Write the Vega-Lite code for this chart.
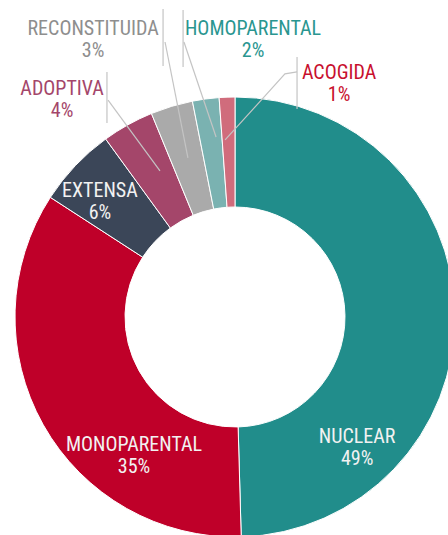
{
  "$schema": "https://vega.github.io/schema/vega-lite/v6.json",
  "width": 470,
  "height": 634,
  "autosize": "none",
  "padding": 0,
  "background": "white",
  "config": {"view": {"stroke": null}},
  "datasets": {
    "slices": [
      {"category": "NUCLEAR", "value": 49.55, "order": 1},
      {"category": "MONOPARENTAL", "value": 34.6, "order": 2},
      {"category": "EXTENSA", "value": 5.85, "order": 3},
      {"category": "ADOPTIVA", "value": 3.8, "order": 4},
      {"category": "RECONSTITUIDA", "value": 3.1, "order": 5},
      {"category": "HOMOPARENTAL", "value": 1.95, "order": 6},
      {"category": "ACOGIDA", "value": 1.15, "order": 7}
    ],
    "labels": [
      {"category": "NUCLEAR", "pct": "49%", "x": 0.555, "y": -0.573},
      {"category": "MONOPARENTAL", "pct": "35%", "x": -0.459, "y": -0.609},
      {"category": "EXTENSA", "pct": "6%", "x": -0.614, "y": 0.545},
      {"category": "ADOPTIVA", "pct": "4%", "x": -0.786, "y": 1.009},
      {"category": "RECONSTITUIDA", "pct": "3%", "x": -0.645, "y": 1.282},
      {"category": "HOMOPARENTAL", "pct": "2%", "x": 0.082, "y": 1.282},
      {"category": "ACOGIDA", "pct": "1%", "x": 0.473, "y": 1.082}
    ],
    "leaders": [
      {"seg": "a1", "pt": 1, "x": -0.582, "y": 1.114},
      {"seg": "a1", "pt": 2, "x": -0.582, "y": 0.882},
      {"seg": "a2", "pt": 1, "x": -0.577, "y": 0.986},
      {"seg": "a2", "pt": 2, "x": -0.341, "y": 0.664},
      {"seg": "r1", "pt": 1, "x": -0.327, "y": 1.4},
      {"seg": "r1", "pt": 2, "x": -0.327, "y": 1.141},
      {"seg": "r2", "pt": 1, "x": -0.318, "y": 1.25},
      {"seg": "r2", "pt": 2, "x": -0.214, "y": 0.723},
      {"seg": "h1", "pt": 1, "x": -0.236, "y": 1.395},
      {"seg": "h1", "pt": 2, "x": -0.236, "y": 1.136},
      {"seg": "h2", "pt": 1, "x": -0.232, "y": 1.25},
      {"seg": "h2", "pt": 2, "x": -0.086, "y": 0.818},
      {"seg": "c1", "pt": 1, "x": 0.282, "y": 1.182},
      {"seg": "c1", "pt": 2, "x": 0.282, "y": 0.945},
      {"seg": "c2", "pt": 1, "x": 0.282, "y": 1.114},
      {"seg": "c2", "pt": 2, "x": 0.227, "y": 1.105},
      {"seg": "c2", "pt": 3, "x": -0.045, "y": 0.805}
    ]
  },
  "resolve": {"scale": {"color": "independent"}},
  "layer": [
    {
      "data": {"name": "slices"},
      "mark": {"type": "arc", "innerRadius": 110, "outerRadius": 220, "stroke": "white", "strokeWidth": 1},
      "encoding": {
        "theta": {"field": "value", "type": "quantitative", "stack": true},
        "order": {"field": "order", "type": "quantitative"},
        "color": {
          "field": "category", "type": "nominal", "legend": null,
          "scale": {
            "domain": ["NUCLEAR", "MONOPARENTAL", "EXTENSA", "ADOPTIVA", "RECONSTITUIDA", "HOMOPARENTAL", "ACOGIDA"],
            "range": ["#218d8b", "#bf0029", "#3b4658", "#a4466a", "#aaaaaa", "#7ab2b1", "#d06c7c"]
          }
        }
      }
    },
    {
      "data": {"name": "leaders"},
      "mark": {"type": "line", "color": "#c4c4c4", "strokeWidth": 1.2},
      "encoding": {
        "x": {"field": "x", "type": "quantitative", "scale": {"domain": [-1.0682, 1.0682], "nice": false, "zero": false}, "axis": null},
        "y": {"field": "y", "type": "quantitative", "scale": {"domain": [-1.4409, 1.4409], "nice": false, "zero": false}, "axis": null},
        "detail": {"field": "seg", "type": "nominal"},
        "order": {"field": "pt", "type": "quantitative"}
      }
    },
    {
      "data": {"name": "labels"},
      "mark": {"type": "text", "font": "Roboto Condensed, Liberation Sans Narrow, DejaVu Sans Condensed, Roboto, sans-serif", "fontSize": 20, "align": "center", "baseline": "alphabetic"},
      "encoding": {
        "x": {"field": "x", "type": "quantitative", "scale": {"domain": [-1.0682, 1.0682], "nice": false, "zero": false}, "axis": null},
        "y": {"field": "y", "type": "quantitative", "scale": {"domain": [-1.4409, 1.4409], "nice": false, "zero": false}, "axis": null},
        "text": {"field": "category", "type": "nominal"},
        "color": {
          "field": "category", "type": "nominal", "legend": null,
          "scale": {
            "domain": ["NUCLEAR", "MONOPARENTAL", "EXTENSA", "ADOPTIVA", "RECONSTITUIDA", "HOMOPARENTAL", "ACOGIDA"],
            "range": ["#f2f2f2", "#f2f2f2", "#f2f2f2", "#a4466a", "#8e8e8e", "#2a9690", "#c8102e"]
          }
        }
      }
    },
    {
      "data": {"name": "labels"},
      "mark": {"type": "text", "font": "Roboto Condensed, Liberation Sans Narrow, DejaVu Sans Condensed, Roboto, sans-serif", "fontSize": 20, "align": "center", "baseline": "alphabetic", "dy": 22},
      "encoding": {
        "x": {"field": "x", "type": "quantitative", "scale": {"domain": [-1.0682, 1.0682], "nice": false, "zero": false}, "axis": null},
        "y": {"field": "y", "type": "quantitative", "scale": {"domain": [-1.4409, 1.4409], "nice": false, "zero": false}, "axis": null},
        "text": {"field": "pct", "type": "nominal"},
        "color": {
          "field": "category", "type": "nominal", "legend": null,
          "scale": {
            "domain": ["NUCLEAR", "MONOPARENTAL", "EXTENSA", "ADOPTIVA", "RECONSTITUIDA", "HOMOPARENTAL", "ACOGIDA"],
            "range": ["#f2f2f2", "#f2f2f2", "#f2f2f2", "#a4466a", "#8e8e8e", "#2a9690", "#c8102e"]
          }
        }
      }
    }
  ]
}
